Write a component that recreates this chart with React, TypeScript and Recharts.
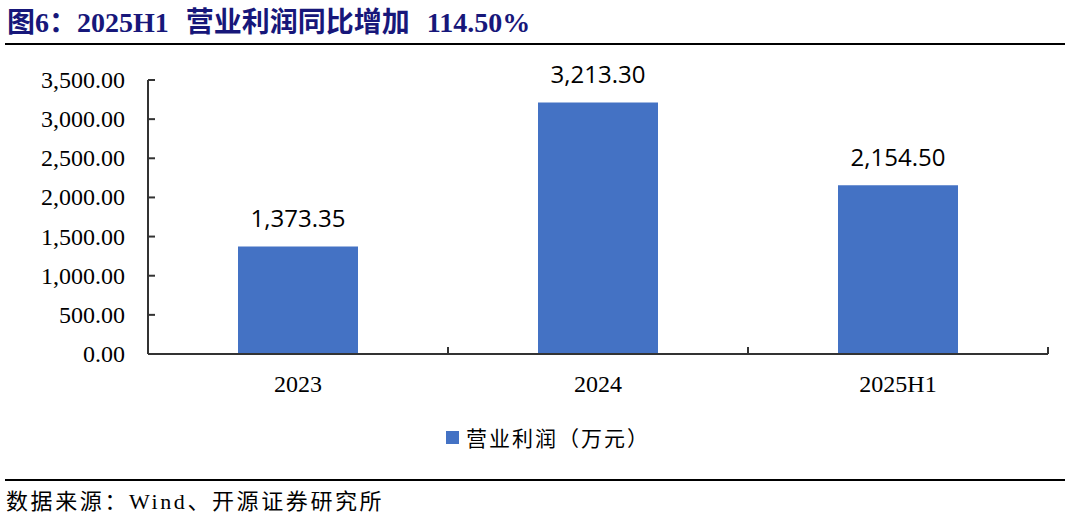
import React from 'react';
import { BarChart, Bar, XAxis, YAxis, LabelList, Legend } from 'recharts';

const categories = ['2023', '2024', '2025H1'];
const profitValues = [1373.35, 3213.3, 2154.5];
const yTicks = [0, 500, 1000, 1500, 2000, 2500, 3000, 3500];
const seriesName = '营业利润（万元）';
const titleText = '图6：2025H1 营业利润同比增加 114.50%';
const sourceText = '数据来源：Wind、开源证券研究所';

const data = categories.map((c, i) => ({ name: c, value: profitValues[i] }));

const fmt = (v: number) =>
  Number(v).toLocaleString('en-US', { minimumFractionDigits: 2, maximumFractionDigits: 2 });

const AXIS = '#333333';
const BAR = '#4472C4';
const SERIF = '"Liberation Serif", "Times New Roman", serif';
const CJK = '"Liberation Serif", "Noto Sans CJK SC", serif';

const YTick = (props: any) => {
  const { x, y, payload } = props;
  return (
    <g>
      <line x1={x} x2={x + 7} y1={y} y2={y} stroke={AXIS} strokeWidth={2} />
      <text x={x - 23} y={y} dy={8} textAnchor="end" fontFamily={SERIF} fontSize={24} fill="#000">
        {fmt(payload.value)}
      </text>
    </g>
  );
};

const XTick = (props: any) => {
  const { x, y, payload, index } = props;
  const half = payload && typeof payload.offset === 'number' && payload.offset > 0 ? payload.offset : 150;
  const isLast = index === categories.length - 1;
  return (
    <g>
      {index > 0 && (
        <line x1={x - half} x2={x - half} y1={y} y2={y - 7} stroke={AXIS} strokeWidth={2} />
      )}
      {isLast && <line x1={x + half} x2={x + half} y1={y} y2={y - 7} stroke={AXIS} strokeWidth={2} />}
      <text x={x} y={y + 38} textAnchor="middle" fontFamily={SERIF} fontSize={24} fill="#000">
        {payload.value}
      </text>
    </g>
  );
};

const LegendContent = () => (
  <div style={{ position: 'relative', height: 28, width: 1077 }}>
    <div style={{ position: 'absolute', left: 446, top: 8, width: 13, height: 13, background: BAR }} />
    <div
      style={{
        position: 'absolute',
        left: 466,
        top: 0,
        fontFamily: '"Noto Sans CJK SC", sans-serif',
        fontSize: 21,
        lineHeight: '28px',
        color: '#000',
        whiteSpace: 'nowrap',
        letterSpacing: 2,
      }}
    >
      {seriesName}
    </div>
  </div>
);

export default function App() {
  return (
    <div style={{ position: 'absolute', left: 0, top: 0, width: 1077, height: 525, background: '#fff', overflow: 'hidden' }}>
      <div
        style={{
          position: 'absolute',
          left: 7,
          top: 5,
          fontFamily: CJK,
          fontWeight: 'bold',
          fontSize: 28,
          lineHeight: '36px',
          color: '#17177A',
          whiteSpace: 'nowrap',
          wordSpacing: 10,
        }}
      >
        {titleText}
      </div>
      <div style={{ position: 'absolute', left: 5, top: 43, width: 1060, height: 2, background: '#000' }} />
      <div style={{ position: 'absolute', left: 0, top: 0 }}>
        <BarChart
          width={1077}
          height={525}
          data={data}
          margin={{ top: 80, right: 29, left: 68, bottom: 131 }}
          barCategoryGap="30%"
        >
          <YAxis
            type="number"
            domain={[0, 3500]}
            ticks={yTicks}
            width={80}
            tickSize={0}
            tickMargin={0}
            tickLine={false}
            axisLine={{ stroke: AXIS, strokeWidth: 2 }}
            tick={<YTick />}
            interval={0}
          />
          <XAxis
            dataKey="name"
            height={40}
            tickSize={0}
            tickMargin={0}
            tickLine={false}
            axisLine={{ stroke: AXIS, strokeWidth: 2 }}
            tick={<XTick />}
            interval={0}
          />
          <Legend
            layout="horizontal"
            verticalAlign="middle"
            align="center"
            content={<LegendContent />}
            wrapperStyle={{ top: 423, left: 0, width: 1077 }}
          />
          <Bar dataKey="value" name={seriesName} fill={BAR} isAnimationActive={false}>
            <LabelList
              dataKey="value"
              position="top"
              offset={19}
              formatter={(v: any) => fmt(v)}
              fill="#000"
              fontSize={24}
              fontFamily='"Open Sans", "Noto Sans", sans-serif'
            />
          </Bar>
        </BarChart>
      </div>
      <div style={{ position: 'absolute', left: 5, top: 479, width: 1060, height: 2, background: '#000' }} />
      <div
        style={{
          position: 'absolute',
          left: 6,
          top: 488,
          fontFamily: CJK,
          fontSize: 22,
          lineHeight: '28px',
          color: '#000',
          whiteSpace: 'nowrap',
          letterSpacing: 2.6,
        }}
      >
        {sourceText}
      </div>
    </div>
  );
}
